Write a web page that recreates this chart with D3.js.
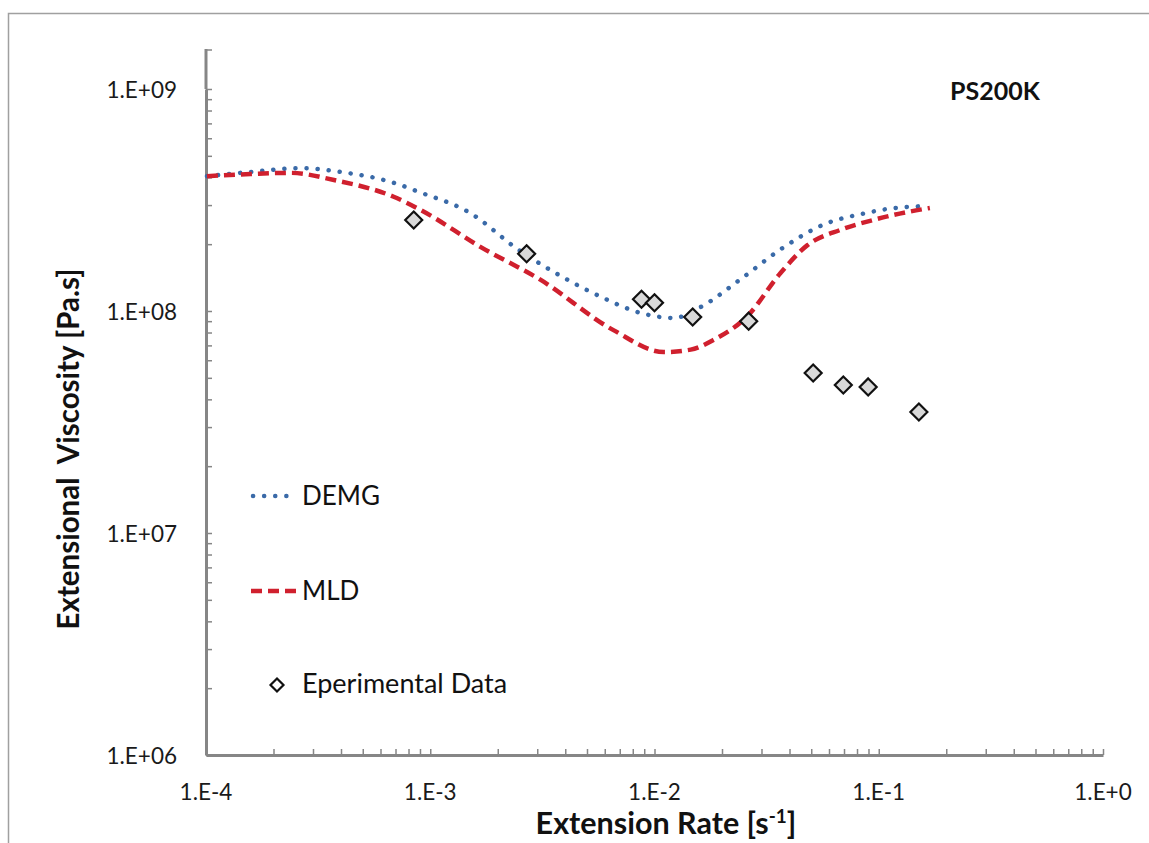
<!DOCTYPE html>
<html>
<head>
<meta charset="utf-8">
<script src="https://cdn.jsdelivr.net/npm/d3@7"></script>
<style>
  html, body { margin: 0; padding: 0; background: #fff; }
  svg { display: block; font-family: Lato, "Open Sans", sans-serif; }
</style>
</head>
<body>
<svg id="chart" width="1149" height="843"></svg>
<script>
// ---------- data ----------
const demgRate = [1.01e-4, 1.58e-4, 2.65e-4, 3.99e-4, 6.87e-4, 8.89e-4, 1.51e-3, 2.45e-3, 3.81e-3, 5.75e-3, 8.67e-3, 1.22e-2, 1.60e-2, 2.42e-2, 3.72e-2, 5.78e-2, 8.45e-2, 0.109, 0.161];
const demgVisc = [4.05e8, 4.23e8, 4.40e8, 4.23e8, 3.78e8, 3.44e8, 2.76e8, 1.90e8, 1.44e8, 1.16e8, 9.8e7, 9.3e7, 1.04e8, 1.39e8, 1.92e8, 2.47e8, 2.74e8, 2.88e8, 2.97e8];

const mldRate = [1.01e-4, 1.58e-4, 2.39e-4, 3.72e-4, 6.87e-4, 9.08e-4, 1.68e-3, 3.11e-3, 6.56e-3, 1.10e-2, 1.45e-2, 1.83e-2, 2.60e-2, 3.64e-2, 4.81e-2, 6.75e-2, 9.45e-2, 0.134, 0.169];
const mldVisc = [4.05e8, 4.14e8, 4.19e8, 3.89e8, 3.27e8, 2.85e8, 1.94e8, 1.38e8, 8.2e7, 6.53e7, 6.7e7, 7.4e7, 9.5e7, 1.48e8, 1.98e8, 2.32e8, 2.57e8, 2.79e8, 2.91e8];

const expRate = [8.44e-4, 2.69e-3, 8.75e-3, 1.0e-2, 1.48e-2, 2.63e-2, 5.1e-2, 6.95e-2, 8.97e-2, 0.151];
const expVisc = [2.57e8, 1.81e8, 1.13e8, 1.09e8, 9.4e7, 9.0e7, 5.26e7, 4.64e7, 4.55e7, 3.51e7];

const xMajor = [1e-4, 1e-3, 1e-2, 1e-1, 1];
const xTickLabels = ["1.E-4", "1.E-3", "1.E-2", "1.E-1", "1.E+0"];
const yMajor = [1e6, 1e7, 1e8, 1e9];
const yTickLabels = ["1.E+06", "1.E+07", "1.E+08", "1.E+09"];
const legendNames = ["DEMG", "MLD", "Eperimental Data"];
const chartLabel = "PS200K";

// ---------- setup ----------
const svg = d3.select("#chart");
const x = d3.scaleLog().domain([1e-4, 1]).range([206, 1103]);
const y = d3.scaleLog().domain([1e6, 1e9]).range([755, 89]);

const axisColor = "#868686";
const blue = "#3a6aa8";
const red = "#d0202e";

// outer frame
svg.append("path")
  .attr("d", "M8.5,843 L8.5,13.5 L1149,13.5")
  .attr("fill", "none").attr("stroke", "#a0a0a0").attr("stroke-width", 1.5);

// minor ticks
function minorTicks(lo, hi) {
  const out = [];
  for (let e = Math.log10(lo); e < Math.log10(hi); e++) {
    for (let m = 1; m <= 9; m++) out.push(m * Math.pow(10, e));
  }
  out.push(hi);
  return out;
}
const xTicks = minorTicks(1e-4, 1);
const yTicks = minorTicks(1e6, 1e9);

// x axis
const gx = svg.append("g").attr("transform", "translate(0,755)")
  .call(d3.axisBottom(x).tickValues(xTicks).tickSize(-6).tickSizeOuter(0).tickFormat(""));
gx.select(".domain").attr("stroke", axisColor).attr("stroke-width", 3);
gx.selectAll(".tick line").attr("stroke", axisColor).attr("stroke-width", 1.5);

// y axis
const gy = svg.append("g").attr("transform", "translate(206,0)")
  .call(d3.axisLeft(y).tickValues(yTicks).tickSize(-6).tickSizeOuter(0).tickFormat(""));
gy.select(".domain").attr("stroke", axisColor).attr("stroke-width", 3);
gy.selectAll(".tick line").attr("stroke", axisColor).attr("stroke-width", 1.5);
// axis extends above top major tick (as in the reference)
svg.append("line").attr("x1", 206).attr("x2", 206).attr("y1", y(1e9)).attr("y2", y(1e9) - 40)
  .attr("stroke", axisColor).attr("stroke-width", 3);
svg.append("line").attr("x1", 206).attr("x2", 212).attr("y1", y(1e9) - 39).attr("y2", y(1e9) - 39)
  .attr("stroke", axisColor).attr("stroke-width", 1.5);

// tick labels
svg.append("g").selectAll("text").data(xMajor).join("text")
  .attr("x", d => x(d)).attr("y", 800)
  .attr("text-anchor", "middle").attr("font-size", 22.5).attr("fill", "#1a1a1a")
  .text((d, i) => xTickLabels[i]);
svg.append("g").selectAll("text").data(yMajor).join("text")
  .attr("x", 177).attr("y", d => y(d) + 9)
  .attr("text-anchor", "end").attr("font-size", 22.5).attr("fill", "#1a1a1a")
  .text((d, i) => yTickLabels[i]);

// axis titles
const xt = svg.append("text").attr("x", 666).attr("y", 834)
  .attr("text-anchor", "middle").attr("font-size", 30.5).attr("font-weight", "bold").attr("fill", "#111");
xt.append("tspan").text("Extension Rate [s");
xt.append("tspan").attr("dy", -11).attr("font-size", 19).text("-1");
xt.append("tspan").attr("dy", 11).text("]");

svg.append("text")
  .attr("transform", "translate(79,449) rotate(-90)")
  .attr("text-anchor", "middle").attr("font-size", 29.5).attr("font-weight", "bold").attr("fill", "#111")
  .attr("xml:space", "preserve")
  .style("white-space", "pre")
  .text("Extensional  Viscosity [Pa.s]");

// chart label
svg.append("text").attr("x", 950).attr("y", 100)
  .attr("font-size", 25).attr("font-weight", "bold").attr("fill", "#111")
  .text(chartLabel);

// ---------- series ----------
const line = d3.line().x(d => x(d[0])).y(d => y(d[1])).curve(d3.curveMonotoneX);

const demg = demgRate.map((r, i) => [r, demgVisc[i]]);
const mld = mldRate.map((r, i) => [r, mldVisc[i]]);

svg.append("path").datum(demg).attr("d", line)
  .attr("fill", "none").attr("stroke", blue).attr("stroke-width", 4.5)
  .attr("stroke-linecap", "round").attr("stroke-dasharray", "0.1 11");

svg.append("path").datum(mld).attr("d", line)
  .attr("fill", "none").attr("stroke", red).attr("stroke-width", 4.5)
  .attr("stroke-dasharray", "11 6");

const diamond = s => `M0,${-s} L${s},0 L0,${s} L${-s},0 Z`;
svg.append("g").selectAll("path").data(expRate.map((r, i) => [r, expVisc[i]])).join("path")
  .attr("transform", d => `translate(${x(d[0])},${y(d[1])})`)
  .attr("d", diamond(8.5))
  .attr("fill", "#d9d9d9").attr("stroke", "#111").attr("stroke-width", 2.2);

// ---------- legend ----------
const lg = svg.append("g");
lg.append("line").attr("x1", 253).attr("x2", 293).attr("y1", 496).attr("y2", 496)
  .attr("stroke", blue).attr("stroke-width", 4.5).attr("stroke-linecap", "round").attr("stroke-dasharray", "0.1 11");
lg.append("text").attr("x", 302).attr("y", 505).attr("font-size", 26).attr("fill", "#111").text(legendNames[0]);

lg.append("line").attr("x1", 251).attr("x2", 298).attr("y1", 591).attr("y2", 591)
  .attr("stroke", red).attr("stroke-width", 4.5).attr("stroke-dasharray", "11 6");
lg.append("text").attr("x", 302).attr("y", 600).attr("font-size", 26).attr("fill", "#111").text(legendNames[1]);

lg.append("path").attr("transform", "translate(277,685)").attr("d", diamond(6.5))
  .attr("fill", "#fff").attr("stroke", "#111").attr("stroke-width", 2.2);
lg.append("text").attr("x", 302).attr("y", 693).attr("font-size", 27).attr("fill", "#111").text(legendNames[2]);
</script>
</body>
</html>
